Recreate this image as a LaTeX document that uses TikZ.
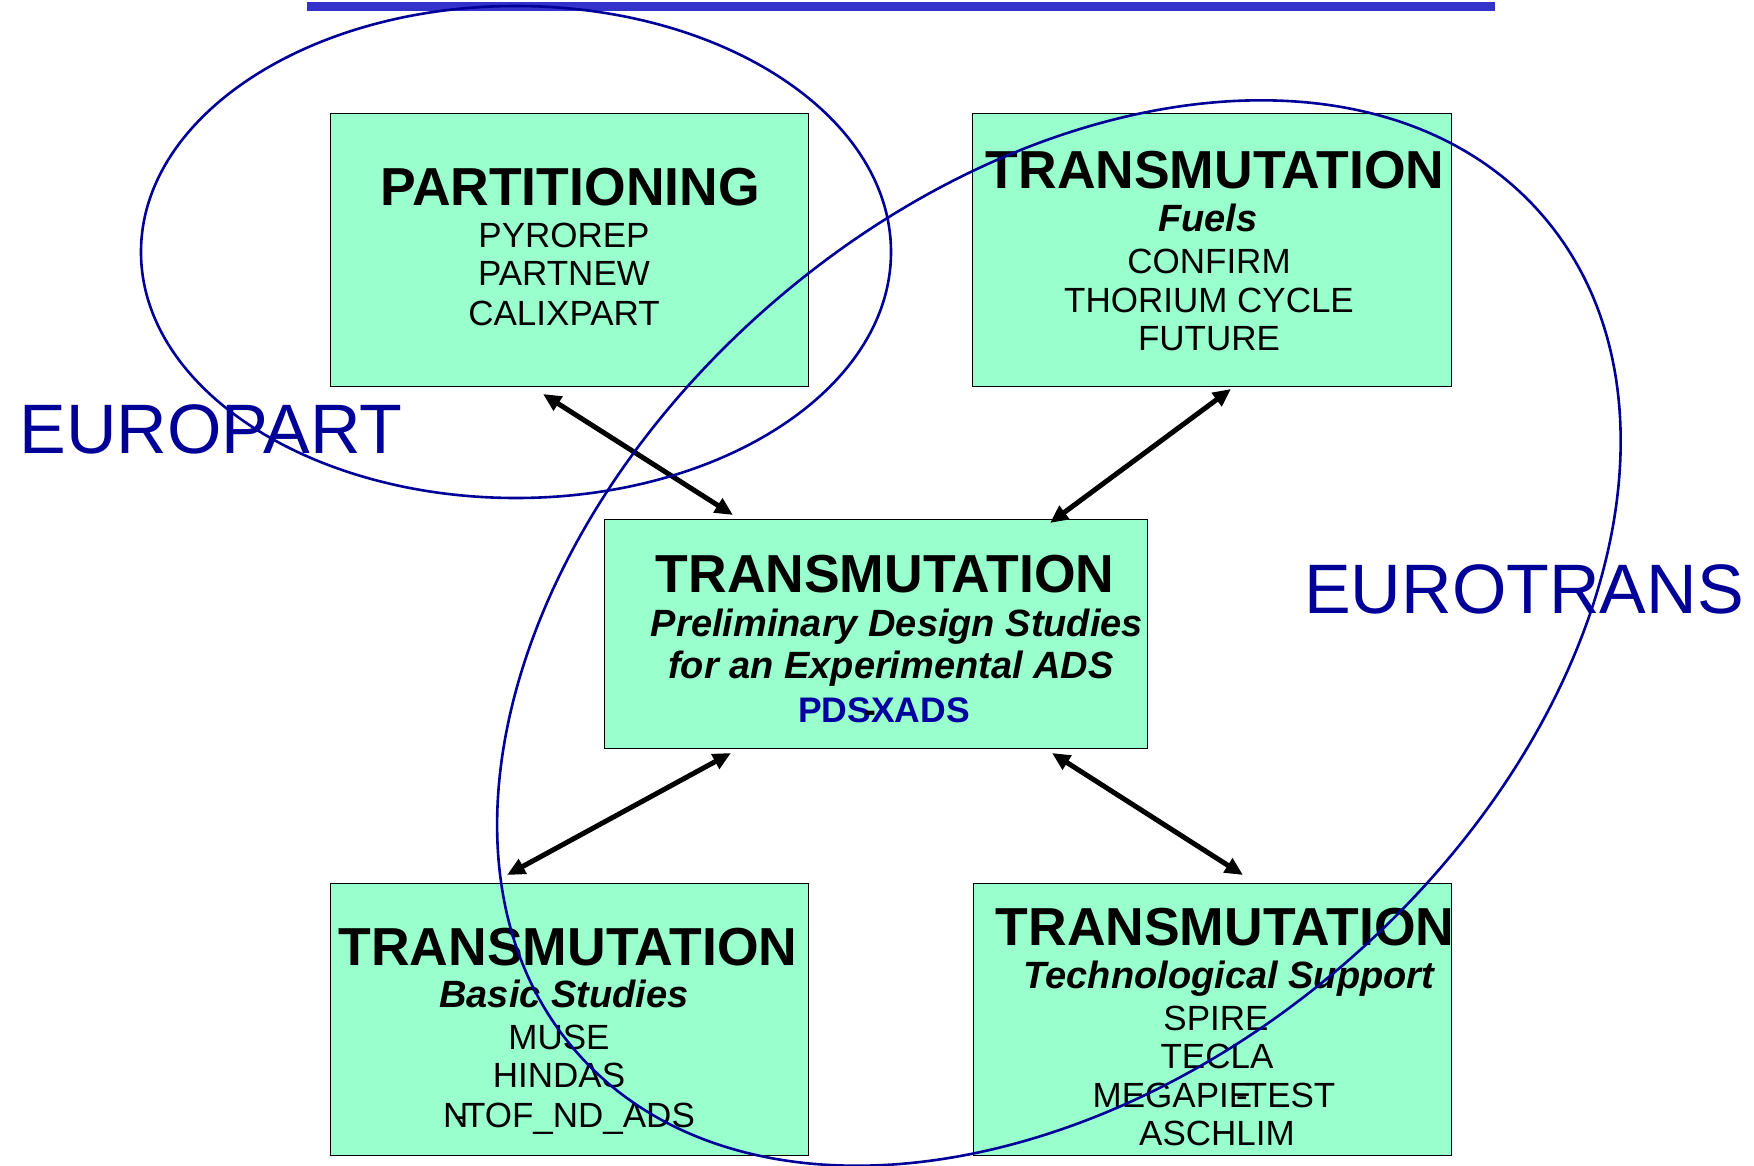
\documentclass[tikz,border=0pt]{standalone}
\usepackage{fontspec}
\setmainfont{Liberation Sans}
\usetikzlibrary{arrows.meta}
\definecolor{mint}{RGB}{153,255,204}
\definecolor{navy}{RGB}{0,0,153}
\definecolor{barblue}{RGB}{51,51,204}
\definecolor{pdsblue}{RGB}{0,0,160}
\tikzset{
  box/.style={draw=black,line width=1.3pt,fill=mint,inner sep=0pt,anchor=north west},
  ttl/.style={inner sep=0pt,anchor=base,font=\fontsize{53.5}{60}\selectfont\bfseries},
  sub/.style={inner sep=0pt,anchor=base,font=\fontsize{38}{44}\selectfont\bfseries\itshape},
  itm/.style={inner sep=0pt,anchor=base,font=\fontsize{35}{40}\selectfont},
  big/.style={inner sep=0pt,anchor=base,text=navy,font=\fontsize{70}{80}\selectfont},
  grp/.style={draw=navy,line width=2.6pt},
  link/.style={line width=5pt,{Triangle[length=18pt,width=16pt]}-{Triangle[length=18pt,width=16pt]}}
}
\begin{document}
\begin{tikzpicture}[x=1pt,y=-1pt]
\useasboundingbox (0,0) rectangle (1754,1166);
\fill[white] (0,0) rectangle (1754,1166);
% top bar
\fill[barblue] (307,2) rectangle (1495,11);
% boxes
\node[box,minimum width=478pt,minimum height=273pt] (part) at (330,113) {};
\node[box,minimum width=479pt,minimum height=273pt] (fuel) at (972,113) {};
\node[box,minimum width=543pt,minimum height=229pt] (pds) at (604,519) {};
\node[box,minimum width=478pt,minimum height=272pt] (basic) at (330,883) {};
\node[box,minimum width=478pt,minimum height=272pt] (tech) at (973,883) {};
% partitioning
\node[ttl] (t1) at (570,206) {PARTITIONING};
\node[itm] (p1) at (564,248) {PYROREP};
\node[itm] (p2) at (564,286) {PARTNEW};
\node[itm] (p3) at (564,326) {CALIXPART};
% fuels
\node[ttl] (t2) at (1215,189) {TRANSMUTATION};
\node[sub] (s2) at (1208,232) {Fuels};
\node[itm] (f1) at (1209,274) {CONFIRM};
\node[itm] (f2) at (1209,313) {THORIUM CYCLE};
\node[itm] (f3) at (1209,351) {FUTURE};
% centre
\node[ttl] (t3) at (885,592) {TRANSMUTATION};
\node[sub] (s3a) at (897,636) {Preliminary Design Studies};
\node[sub] (s3b) at (891,678) {for an Experimental ADS};
\node[itm,font=\fontsize{35.5}{40}\selectfont\bfseries,text=pdsblue] (c1) at (884,722) {PDS\kern-7pt{\color{black}-}\kern-5ptXADS};
% basic
\node[ttl] (t4) at (568,965) {TRANSMUTATION};
\node[sub] (s4) at (564,1007) {Basic Studies};
\node[itm] (b1) at (559,1049) {MUSE};
\node[itm] (b2) at (559,1087) {HINDAS};
\node[itm] (b3) at (569,1127) {N\kern-14pt-\kern-2ptTOF\_ND\_ADS};
% tech
\node[ttl] (t5) at (1225,945) {TRANSMUTATION};
\node[sub] (s5) at (1229,988) {Technological Support};
\node[itm] (e1) at (1216,1030) {SPIRE};
\node[itm] (e2) at (1217,1068) {TECLA};
\node[itm] (e3) at (1214,1107) {MEGAPIE\kern-16pt-\kern-2ptTEST};
\node[itm] (e4) at (1217,1145) {ASCHLIM};
% group labels
\node[big] (europart) at (211,453) {EUROPART};
\node[big] (eurotrans) at (1524,613) {EUROTRANS};
% arrow end points
\coordinate (a1) at (543,394); \coordinate (a2) at (733,515);
\coordinate (b1a) at (1231,389); \coordinate (b2a) at (1050,523);
\coordinate (c1a) at (731,753); \coordinate (c2a) at (507,875);
\coordinate (d1) at (1052,753); \coordinate (d2) at (1243,875);
\draw[link] (a1) -- (a2);
\draw[link] (b1a) -- (b2a);
\draw[link] (c1a) -- (c2a);
\draw[link] (d1) -- (d2);
% groups
\coordinate (ep) at (516,252);
\draw[grp] (ep) ellipse [x radius=375pt, y radius=246pt];
\coordinate (et) at (1059,633);
\draw[grp,rotate around={40.8:(et)}] (et) ellipse [x radius=639pt, y radius=437pt];
\end{tikzpicture}
\end{document}
